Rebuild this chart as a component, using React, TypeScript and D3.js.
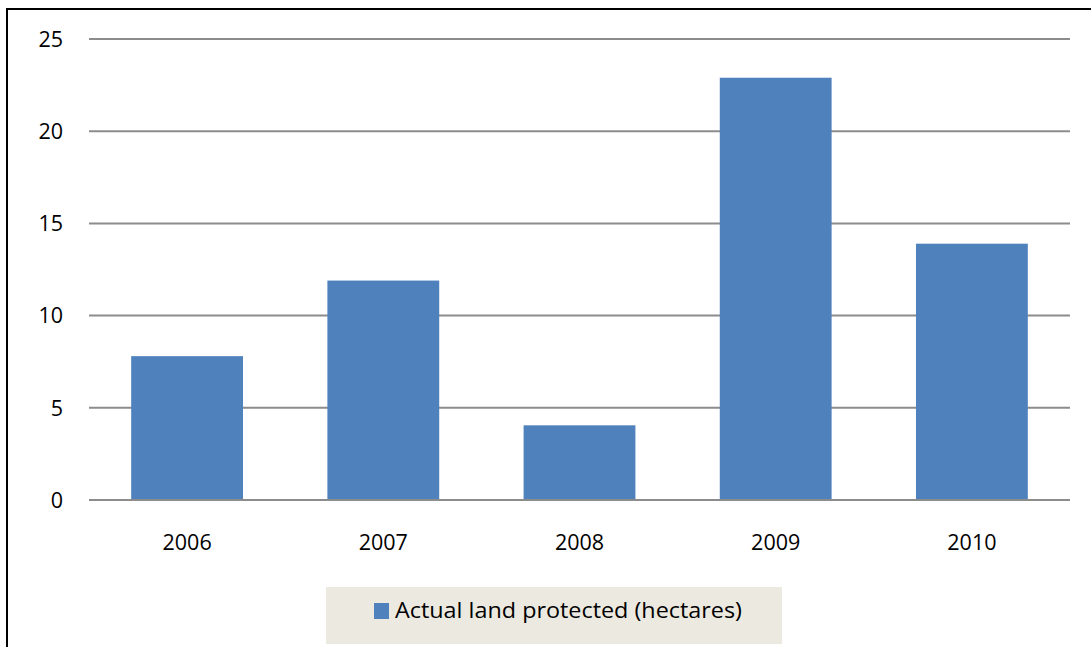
import React from "react";
import * as d3 from "d3";

const years = ["2006", "2007", "2008", "2009", "2010"];
const landProtected = [7.8, 11.9, 4.05, 22.9, 13.9];
const yTicks = [0, 5, 10, 15, 20, 25];
const seriesName = "Actual land protected (hectares)";

const W = 1091;
const H = 647;
const plot = { left: 89, right: 1070, top: 39, bottom: 500 };
const FONT = "'Open Sans', sans-serif";

export default function App() {
  const x = d3
    .scaleBand<string>()
    .domain(years)
    .range([plot.left, plot.right])
    .paddingInner(0.43)
    .paddingOuter(0.215);
  const y = d3.scaleLinear().domain([0, 25]).range([plot.bottom, plot.top]);

  return (
    <svg
      width={W}
      height={H}
      style={{ position: "absolute", left: 0, top: 0, background: "#fff" }}
    >
      <rect x={0} y={0} width={W} height={H} fill="#fff" />
      {/* outer border (partially visible) */}
      <path d={`M7,${H + 5} L7,9 L${W + 5},9`} fill="none" stroke="#000" strokeWidth={2} />

      {yTicks.map((t) => (
        <g key={t}>
          <line
            x1={plot.left}
            x2={plot.right}
            y1={y(t)}
            y2={y(t)}
            stroke="#8c8c8c"
            strokeWidth={2}
          />
          <text
            x={63}
            y={y(t)}
            dy="0.36em"
            textAnchor="end"
            fontFamily={FONT}
            fontSize={21.5}
            fill="#000"
          >
            {t}
          </text>
        </g>
      ))}

      {years.map((yr, i) => (
        <rect
          key={yr}
          x={x(yr)}
          y={y(landProtected[i])}
          width={x.bandwidth()}
          height={y(0) - y(landProtected[i])}
          fill="#4F81BD"
        />
      ))}
      <line
        x1={plot.left}
        x2={plot.right}
        y1={y(0)}
        y2={y(0)}
        stroke="#8c8c8c"
        strokeWidth={2}
      />

      {years.map((yr) => (
        <text
          key={yr}
          x={(x(yr) as number) + x.bandwidth() / 2}
          y={550}
          textAnchor="middle"
          fontFamily={FONT}
          fontSize={21.5}
          fill="#000"
        >
          {yr}
        </text>
      ))}

      {/* legend */}
      <rect x={326} y={587} width={456} height={57} fill="#ECEAE0" />
      <rect x={374} y={603} width={15} height={16} fill="#4F81BD" />
      <text
        x={395}
        y={618}
        fontFamily={FONT}
        fontSize={21}
        fill="#000"
        textLength={347}
        lengthAdjust="spacingAndGlyphs"
      >
        {seriesName}
      </text>
    </svg>
  );
}
